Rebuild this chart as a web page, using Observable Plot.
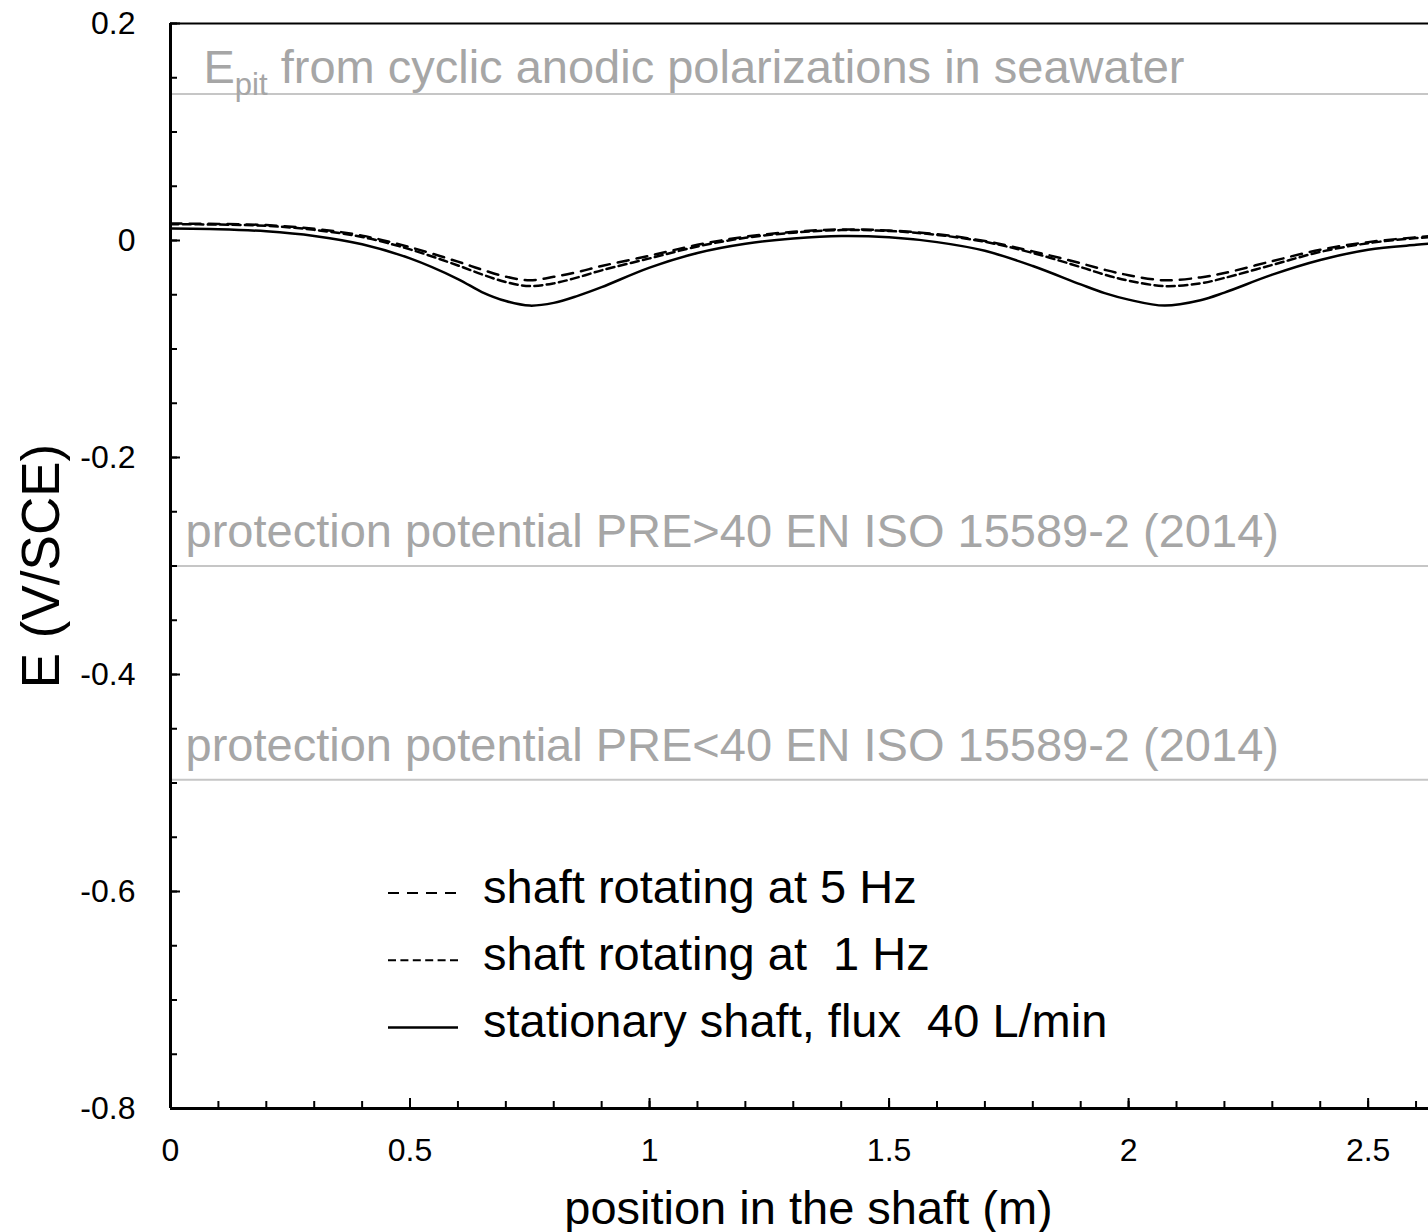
<!DOCTYPE html>
<html><head><meta charset="utf-8">
<script src="https://cdn.jsdelivr.net/npm/d3@7"></script>
<script src="https://cdn.jsdelivr.net/npm/@observablehq/plot@0.6"></script>
<style>body{margin:0;background:#fff}</style>
</head><body><div id="chart"></div>
<script>
// ---- data ----
const positions = [0, 0.1, 0.2, 0.3, 0.4, 0.5, 0.6, 0.65, 0.7, 0.75, 0.8, 0.85, 0.9, 1.0, 1.1, 1.2, 1.3, 1.4, 1.5, 1.6, 1.7, 1.8, 1.9, 1.95, 2.0, 2.075, 2.15, 2.2, 2.3, 2.4, 2.5, 2.6, 2.626];
const stationary = [0.011, 0.0104, 0.0085, 0.0042, -0.0035, -0.0165, -0.0355, -0.0475, -0.0558, -0.0600, -0.0575, -0.0510, -0.0430, -0.0250, -0.0115, -0.0030, 0.0018, 0.0042, 0.0030, -0.0015, -0.0095, -0.0235, -0.0405, -0.0485, -0.0545, -0.0600, -0.0550, -0.0480, -0.0315, -0.0180, -0.0085, -0.0040, -0.0030];
const rot5Hz = [0.0156, 0.0153, 0.0142, 0.0108, 0.0045, -0.0062, -0.0195, -0.0268, -0.0333, -0.0367, -0.0335, -0.0290, -0.0235, -0.0140, -0.0040, 0.0035, 0.0080, 0.0102, 0.0092, 0.0058, -0.0005, -0.0100, -0.0210, -0.0270, -0.0320, -0.0367, -0.0340, -0.0300, -0.0190, -0.0085, -0.0015, 0.0030, 0.0040];
const rot1Hz = [0.0150, 0.0147, 0.0135, 0.0098, 0.0032, -0.0082, -0.0230, -0.0312, -0.0383, -0.0420, -0.0395, -0.0340, -0.0275, -0.0165, -0.0055, 0.0025, 0.0072, 0.0096, 0.0088, 0.0052, -0.0012, -0.0115, -0.0245, -0.0315, -0.0370, -0.0420, -0.0395, -0.0345, -0.0225, -0.0105, -0.0025, 0.0022, 0.0030];

const refValues = [0.135, -0.3, -0.497];
const refLabels = ["Epit from cyclic anodic polarizations in seawater",
                   "protection potential PRE>40 EN ISO 15589-2 (2014)",
                   "protection potential PRE<40 EN ISO 15589-2 (2014)"];

const yLabelTicks = [-0.8, -0.6, -0.4, -0.2, 0, 0.2];
const xLabelTicks = [0, 0.5, 1, 1.5, 2, 2.5];
const legendLabels = ["shaft rotating at 5 Hz", "shaft rotating at  1 Hz", "stationary shaft, flux  40 L/min"];
const xTitle = "position in the shaft (m)";
const yTitle = "E (V/SCE)";

// ---- build ----
const rows = ys => positions.map((x, i) => ({x, y: ys[i]}));
const refRows = refValues.map((v, i) => ({value: v, label: refLabels[i]}));
const yMinor = d3.range(0, 21).map(i => -0.8 + i * 0.05);
const xMinor = d3.range(0, 27).map(i => i / 10);
const fmt = d => String(Math.round(d * 10) / 10);

const FONT = "'Liberation Sans', Arial, sans-serif";
const dash5 = "11,8";
const dash1 = "8,4.4";
const CURVE = "catmull-rom";

const svg = Plot.plot({
  width: 1428,
  height: 1232,
  marginLeft: 170,
  marginRight: 0,
  marginTop: 23,
  marginBottom: 124,
  style: {fontFamily: FONT, background: "white", color: "black", overflow: "visible"},
  x: {domain: [0, 2.626]},
  y: {domain: [-0.8, 0.2]},
  marks: [
    Plot.ruleY(refRows, {y: "value", stroke: "#c6c6c6", strokeWidth: 2}),
    Plot.text(refRows.slice(0, 1), {x: 0, y: "value", text: "label", dx: 33, dy: -11, textAnchor: "start", lineAnchor: "bottom", fill: "#a6a6a6", fontSize: 47}),
    Plot.text(refRows.slice(1), {x: 0, y: "value", text: "label", dx: 15, dy: -19, textAnchor: "start", lineAnchor: "bottom", fill: "#a6a6a6", fontSize: 47}),
    Plot.line(rows(rot5Hz), {x: "x", y: "y", stroke: "black", strokeWidth: 2.5, strokeDasharray: dash5, curve: CURVE}),
    Plot.line(rows(rot1Hz), {x: "x", y: "y", stroke: "black", strokeWidth: 2.5, strokeDasharray: dash1, curve: CURVE}),
    Plot.line(rows(stationary), {x: "x", y: "y", stroke: "black", strokeWidth: 2.5, curve: CURVE}),
    // axes ticks (inward)
    Plot.axisY(yMinor, {tickSize: -7, tickFormat: () => "", strokeWidth: 2, label: null}),
    Plot.axisY(yLabelTicks, {tickSize: -10, tickFormat: () => "", strokeWidth: 2, label: null}),
    Plot.axisY(yLabelTicks, {tickSize: 0, tickPadding: 35, tickFormat: fmt, fontSize: 32, label: null}),
    Plot.axisX(xMinor, {tickSize: -7, tickFormat: () => "", strokeWidth: 2, label: null}),
    Plot.axisX(xLabelTicks, {tickSize: -10, tickFormat: () => "", strokeWidth: 2, label: null}),
    Plot.axisX(xLabelTicks, {tickSize: 0, tickPadding: 30, tickFormat: fmt, fontSize: 32, label: null}),
    // frame lines
    Plot.ruleY([0.2], {stroke: "black", strokeWidth: 2}),
    Plot.ruleY([-0.8], {stroke: "black", strokeWidth: 3}),
    Plot.ruleX([0], {stroke: "black", strokeWidth: 3}),
    // axis titles
    Plot.text([xTitle], {frameAnchor: "bottom", dx: 9, dy: 115, lineAnchor: "bottom", textAnchor: "middle", fontSize: 47, fill: "black"}),
    Plot.text([yTitle], {frameAnchor: "left", dx: -112, rotate: -90, lineAnchor: "bottom", textAnchor: "middle", fontSize: 53, fill: "black"})
  ]
});

// subscript for E_pit
d3.select(svg).selectAll("text").each(function() {
  if (this.textContent === refLabels[0]) {
    const t = d3.select(this);
    t.text("");
    t.append("tspan").text("E");
    t.append("tspan").attr("font-size", 31).attr("dy", 12).text("pit");
    t.append("tspan").attr("dy", -12).text(refLabels[0].slice(4));
  }
});

// legend
const legendX = 388, legendY = 893, rowGap = 67.2, sampleLen = 70;
const styles = [{dash: dash5, w: 2}, {dash: dash1, w: 2}, {dash: null, w: 2.5}];
const lg = d3.select(svg).append("g").attr("font-family", FONT).attr("font-size", 47).attr("text-anchor", "start");
legendLabels.forEach((lab, i) => {
  const y = legendY + i * rowGap;
  lg.append("line").attr("x1", legendX).attr("x2", legendX + sampleLen).attr("y1", y).attr("y2", y)
    .attr("stroke", "black").attr("stroke-width", styles[i].w).attr("stroke-dasharray", styles[i].dash);
  lg.append("text").attr("x", legendX + 95).attr("y", y + 10).attr("fill", "black").attr("text-anchor", "start")
    .style("white-space", "pre").text(lab);
});

document.getElementById("chart").appendChild(svg);
</script>
</body></html>
